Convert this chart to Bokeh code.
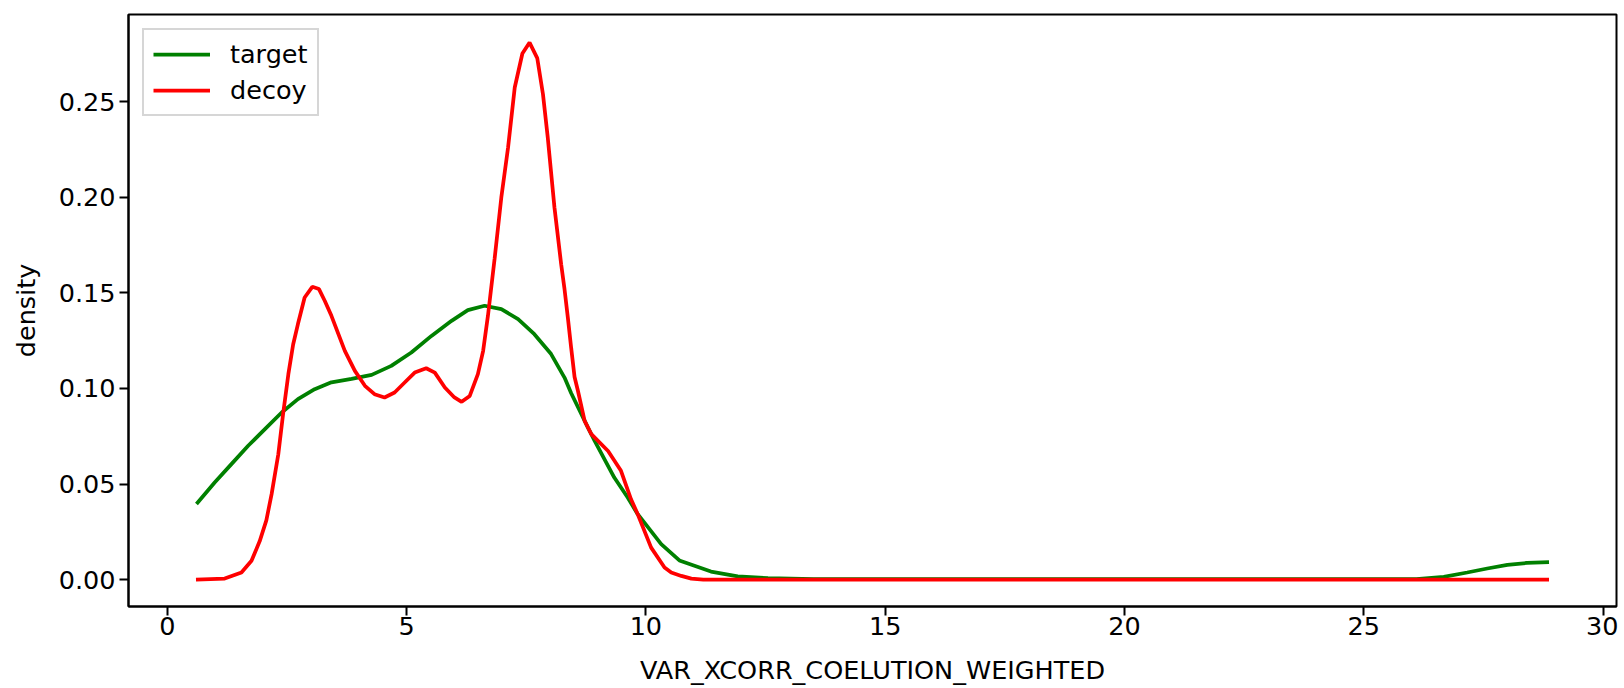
from bokeh.plotting import figure
from bokeh.models import Range1d, FixedTicker, NumeralTickFormatter, Legend, LegendItem
from bokeh.embed import file_html
from bokeh.resources import INLINE

# ---- data ----
target_x = [0.61, 0.99, 1.34, 1.69, 2.04, 2.39, 2.73, 3.08, 3.43, 3.85, 4.27, 4.68, 5.10,
            5.52, 5.94, 6.28, 6.63, 6.98, 7.33, 7.67, 8.02, 8.30, 8.44, 8.79, 8.93, 9.34,
            9.62, 9.83, 10.32, 10.70, 11.36, 11.92, 12.55, 13.50, 26.10, 26.67,
            27.16, 27.58, 28.00, 28.41, 28.87]
target_y = [0.0395, 0.0508, 0.0604, 0.0700, 0.0787, 0.0874, 0.0944, 0.0996, 0.1032, 0.1050,
            0.1071, 0.1118, 0.1188, 0.1275, 0.1354, 0.1410, 0.1433, 0.1415, 0.1363, 0.1284,
            0.1180, 0.1057, 0.0975, 0.0795, 0.0726, 0.0534, 0.0429, 0.0342, 0.0185, 0.0100,
            0.0042, 0.0017, 0.0007, 0.0002, 0.0002, 0.0014, 0.0037, 0.0058, 0.0077,
            0.0087, 0.0091]

decoy_x = [0.60, 1.20, 1.55, 1.76, 1.93, 2.07, 2.18, 2.32, 2.42, 2.53, 2.63, 2.73, 2.87,
           3.03, 3.17, 3.29, 3.43, 3.71, 3.92, 4.13, 4.33, 4.54, 4.75, 4.96, 5.17, 5.41,
           5.59, 5.80, 6.00, 6.15, 6.32, 6.49, 6.60, 6.70, 6.84, 6.98, 7.12, 7.26, 7.42,
           7.57, 7.73, 7.85, 7.95, 8.09, 8.23, 8.30, 8.37, 8.44, 8.51, 8.58, 8.72, 8.86,
           9.21, 9.48, 9.69, 9.83, 10.11, 10.39, 10.53, 10.74, 10.95, 11.20, 28.87]
decoy_y = [0.0, 0.0005, 0.0037, 0.0098, 0.0200, 0.0310, 0.0447, 0.0656, 0.0866, 0.1075,
           0.1230, 0.1337, 0.1476, 0.1532, 0.1520, 0.1459, 0.1380, 0.1197, 0.1092, 0.1014,
           0.0970, 0.0953, 0.0979, 0.1031, 0.1083, 0.1106, 0.1083, 0.1005, 0.0953, 0.0930,
           0.0961, 0.1075, 0.1197, 0.1380, 0.1680, 0.2000, 0.2260, 0.2575, 0.2753, 0.2810,
           0.2729, 0.2540, 0.2313, 0.1947, 0.1650, 0.1520, 0.1370, 0.1210, 0.1060, 0.0988,
           0.0830, 0.0761, 0.0673, 0.0569, 0.0420, 0.0342, 0.0167, 0.0063, 0.0037, 0.0019,
           0.0005, 0.0, 0.0]

x_ticks = [0, 5, 10, 15, 20, 25, 30]
y_ticks = [0.0, 0.05, 0.10, 0.15, 0.20, 0.25]

FONT = "DejaVu Sans"
FS = "25.5px"

p = figure(width=1618, height=688, output_backend="svg", toolbar_location=None,
           x_range=Range1d(-0.81, 30.28), y_range=Range1d(-0.0141, 0.2957),
           min_border_left=128, min_border_right=2, min_border_top=14, min_border_bottom=82)

p.grid.visible = False
p.outline_line_color = "black"
p.outline_line_width = 2

r1 = p.line(target_x, target_y, line_color="#008000", line_width=3.75)
r2 = p.line(decoy_x, decoy_y, line_color="#ff0000", line_width=3.75)

for ax in (p.xaxis[0], p.yaxis[0]):
    ax.axis_line_color = "black"
    ax.axis_line_width = 2
    ax.major_tick_line_width = 2
    ax.major_tick_out = 9
    ax.major_tick_in = 0
    ax.minor_tick_line_color = None
    ax.major_label_text_font = FONT
    ax.major_label_text_font_size = FS
    ax.major_label_text_color = "black"
    ax.axis_label_text_font = FONT
    ax.axis_label_text_font_size = FS
    ax.axis_label_text_font_style = "normal"
    ax.axis_label_text_color = "black"

p.xaxis.ticker = FixedTicker(ticks=x_ticks)
p.yaxis.ticker = FixedTicker(ticks=y_ticks)
p.yaxis.formatter = NumeralTickFormatter(format="0.00")
p.xaxis.axis_label = "VAR_XCORR_COELUTION_WEIGHTED"
p.yaxis.axis_label = "density"
p.xaxis.major_label_standoff = 1
p.yaxis.major_label_standoff = 4
p.xaxis.axis_label_standoff = 17
p.yaxis.axis_label_standoff = 15

legend = Legend(items=[LegendItem(label="target", renderers=[r1]),
                       LegendItem(label="decoy", renderers=[r2])],
                location="top_left")
legend.margin = 14
legend.padding = 9
legend.spacing = 6
legend.glyph_width = 57
legend.glyph_height = 30
legend.label_height = 30
legend.label_standoff = 20
legend.label_text_font = FONT
legend.label_text_font_size = FS
legend.label_text_color = "black"
legend.border_line_color = "#cccccc"
legend.border_line_width = 2
legend.border_line_alpha = 0.8
legend.background_fill_alpha = 0.8
p.add_layout(legend)

open("out.html", "w").write(file_html(p, INLINE))
